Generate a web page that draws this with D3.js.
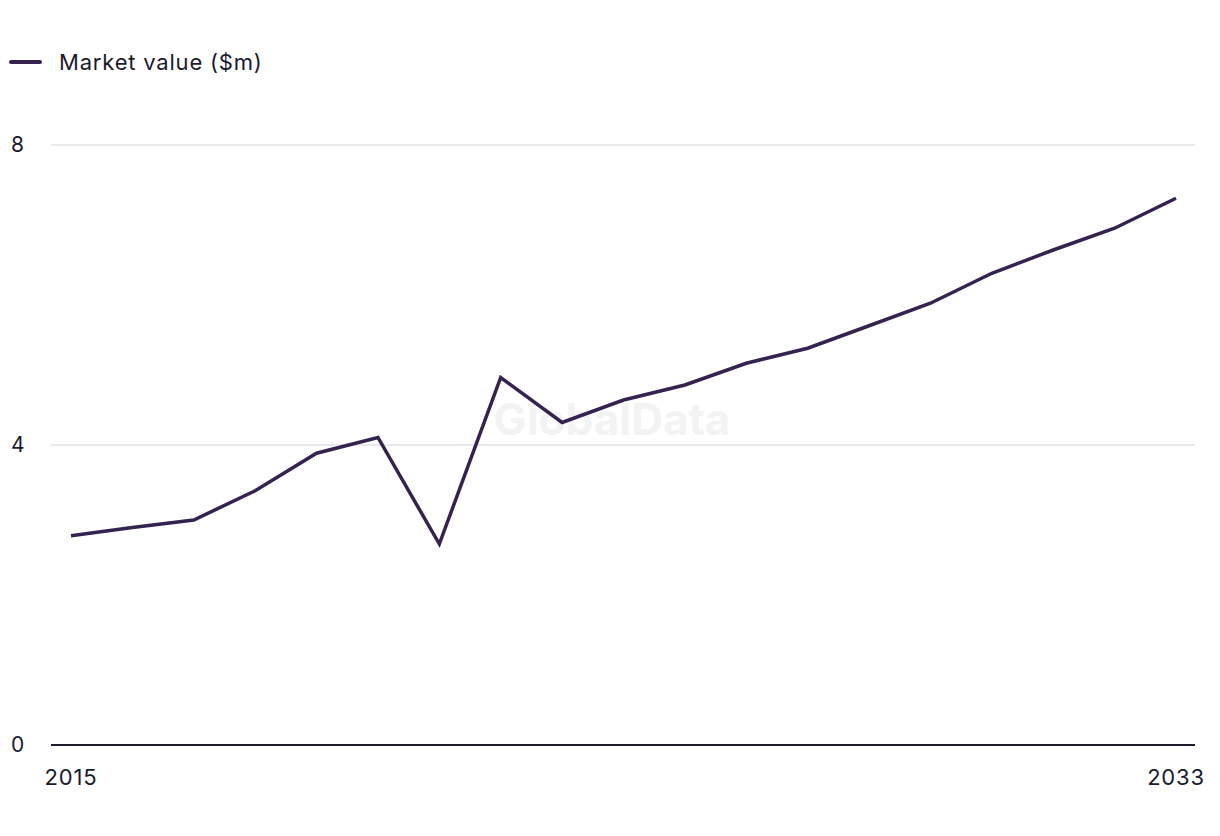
<!DOCTYPE html>
<html>
<head>
<meta charset="utf-8">
<script src="https://cdn.jsdelivr.net/npm/d3@7"></script>
<style>
  html, body { margin: 0; padding: 0; background: #ffffff; }
  svg { display: block; font-family: Inter, "Noto Sans", sans-serif; }
</style>
</head>
<body>
<svg id="chart" width="1220" height="836"></svg>
<script>
const years = [2015, 2016, 2017, 2018, 2019, 2020, 2021, 2022, 2023, 2024,
               2025, 2026, 2027, 2028, 2029, 2030, 2031, 2032, 2033];
const marketValue = [2.79, 2.9, 3.0, 3.39, 3.89, 4.1, 2.68, 4.9, 4.3, 4.6,
                     4.8, 5.09, 5.29, 5.59, 5.89, 6.29, 6.6, 6.89, 7.29];
const yTicks = [0, 4, 8];
const xTickLabels = [2015, 2033];
const seriesName = "Market value ($m)";

const svg = d3.select("#chart");
const lineColor = "#35224f";
const textColor = "#1b1a2e";

const x = d3.scaleLinear().domain([2015, 2033]).range([71, 1176]);
const y = d3.scaleLinear().domain([0, 8]).range([745, 145]);
const plotLeft = 51, plotRight = 1195;

// watermark
svg.append("text")
  .attr("x", 612).attr("y", 435)
  .attr("text-anchor", "middle")
  .attr("font-size", 44).attr("font-weight", 700)
  .attr("fill", "#f3f3f3")
  .text("GlobalData");

// gridlines
svg.append("g").selectAll("line")
  .data(yTicks.filter(d => d !== 0))
  .join("line")
  .attr("x1", plotLeft).attr("x2", plotRight)
  .attr("y1", d => y(d)).attr("y2", d => y(d))
  .attr("stroke", "#d6d6d9").attr("stroke-width", 1.2);

// y tick labels
svg.append("g").selectAll("text")
  .data(yTicks)
  .join("text")
  .attr("x", 11).attr("y", d => y(d))
  .attr("dy", "0.35em")
  .attr("font-size", 21)
  .attr("letter-spacing", 0.5)
  .attr("fill", textColor)
  .text(d => d);

// baseline
svg.append("line")
  .attr("x1", plotLeft).attr("x2", plotRight)
  .attr("y1", y(0)).attr("y2", y(0))
  .attr("stroke", textColor).attr("stroke-width", 2);

// x tick labels
svg.append("g").selectAll("text")
  .data(xTickLabels)
  .join("text")
  .attr("x", d => x(d)).attr("y", 785)
  .attr("text-anchor", "middle")
  .attr("font-size", 22)
  .attr("letter-spacing", 0.8)
  .attr("fill", textColor)
  .text(d => d);

// line
const line = d3.line()
  .x((d, i) => x(years[i]))
  .y(d => y(d));
svg.append("path")
  .datum(marketValue)
  .attr("d", line)
  .attr("fill", "none")
  .attr("stroke", lineColor)
  .attr("stroke-width", 3.5)
  .attr("stroke-linejoin", "miter");

// legend
const legend = svg.append("g");
legend.append("line")
  .attr("x1", 11).attr("x2", 40).attr("y1", 62).attr("y2", 62)
  .attr("stroke", lineColor).attr("stroke-width", 4).attr("stroke-linecap", "round");
legend.append("text")
  .attr("x", 59).attr("y", 62).attr("dy", "0.35em")
  .attr("font-size", 22)
  .attr("letter-spacing", 0.8)
  .attr("fill", textColor)
  .text(seriesName);
</script>
</body>
</html>
